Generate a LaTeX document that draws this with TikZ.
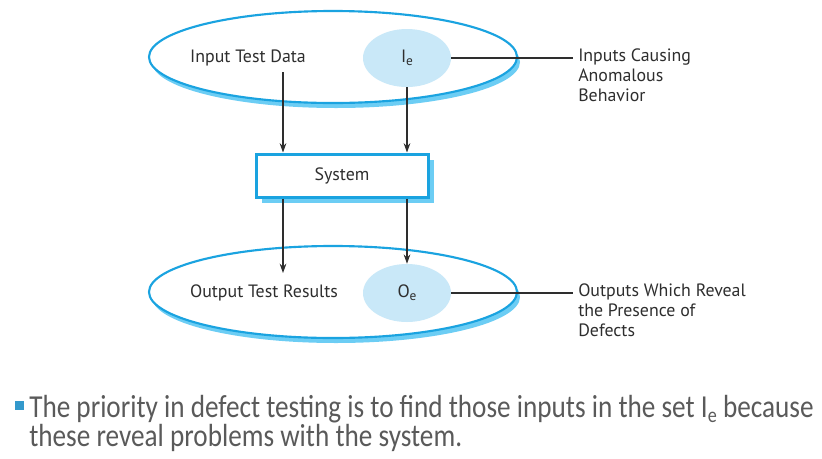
\documentclass[tikz,border=0pt]{standalone}
\usepackage{fontspec}
\setmainfont{PT Sans}
\newfontfamily\bulletfont[FakeStretch=0.85]{Carlito}
\usetikzlibrary{shapes.geometric,shadows,arrows.meta}
\definecolor{eblue}{HTML}{1AA3E0}
\definecolor{sblue}{HTML}{6CCDF4}
\definecolor{lblue}{HTML}{C9E8F8}
\definecolor{ink}{HTML}{2E2E2E}
\definecolor{gtext}{HTML}{5A5A5A}
\definecolor{bsq}{HTML}{3399CC}
\newcommand{\subE}{\raisebox{-0.3ex}{\fontsize{10}{12}\selectfont e}}
\begin{document}
\begin{tikzpicture}[x=0.75pt,y=-0.75pt,
  setellipse/.style={ellipse, draw=eblue, line width=1.6pt, fill=white,
    minimum width=276pt, minimum height=69pt, inner sep=0pt,
    drop shadow={shadow xshift=2.25pt, shadow yshift=-3.75pt, fill=sblue, opacity=1}},
  subset/.style={ellipse, fill=lblue, minimum width=66pt, minimum height=43.5pt,
    inner sep=0pt, text=ink, font=\fontsize{13.4}{16}\selectfont},
  sysbox/.style={rectangle, draw=eblue, line width=2.25pt, fill=white,
    minimum width=129pt, minimum height=32.25pt, text=ink,
    font=\fontsize{13.4}{16}\selectfont,
    drop shadow={shadow xshift=4.5pt, shadow yshift=-4.5pt, fill=sblue, opacity=1}},
  txt/.style={font=\fontsize{13.4}{15}\selectfont, text=ink, inner sep=0pt},
  lab/.style={txt, align=left, anchor=north west, inner xsep=3.75pt, inner ysep=0pt},
  conn/.style={draw=ink, line width=0.8pt},
  arr/.style={conn, -{Stealth[length=7pt, width=5pt]}},
  bullettext/.style={font=\bulletfont\fontsize{24}{17.5}\selectfont, text=gtext,
    align=left, anchor=north west, inner sep=0pt},
  bulletsq/.style={fill=bsq, minimum size=6.75pt, inner sep=0pt}
]
\useasboundingbox (0,0) rectangle (822,458);

% top set
\node[setellipse] (inset) at (333,57) {};
\node[subset] (ie) at (407,58) {I\subE};
\node[txt] (itd) at (248,58) {Input Test Data};

% system
\node[sysbox] (sys) at (342,175.5) {System};

% bottom set
\node[setellipse] (outset) at (333,292) {};
\node[subset] (oe) at (407,293) {O\subE};
\node[txt] (otr) at (264,293) {Output Test Results};

% labels
\node[lab] (lab1) at (573,49) {Inputs Causing\\Anomalous\\Behavior};
\node[lab] (lab2) at (573,283.5) {Outputs Which Reveal\\the Presence of\\Defects};

% connectors
\coordinate (la) at (283,72);
\draw[arr] (la) -- (la |- sys.north);
\draw[arr] (ie.south) -- (ie.south |- sys.north);
\coordinate (lb) at (283,273);
\draw[arr] (lb |- sys.south) -- (lb);
\draw[arr] (oe.north |- sys.south) -- (oe.north);
\draw[conn] (ie.east) -- (ie.east -| lab1.west);
\draw[conn] (oe.east) -- (oe.east -| lab2.west);

% bullet
\node[bulletsq] (bsq) at (19.5,405.5) {};
\node[bullettext] (btext) at (29,395) {The priority in defect testing is to find those inputs in the set I\raisebox{-0.35ex}{\fontsize{16}{18}\selectfont e} because\\these reveal problems with the system.};
\end{tikzpicture}
\end{document}
